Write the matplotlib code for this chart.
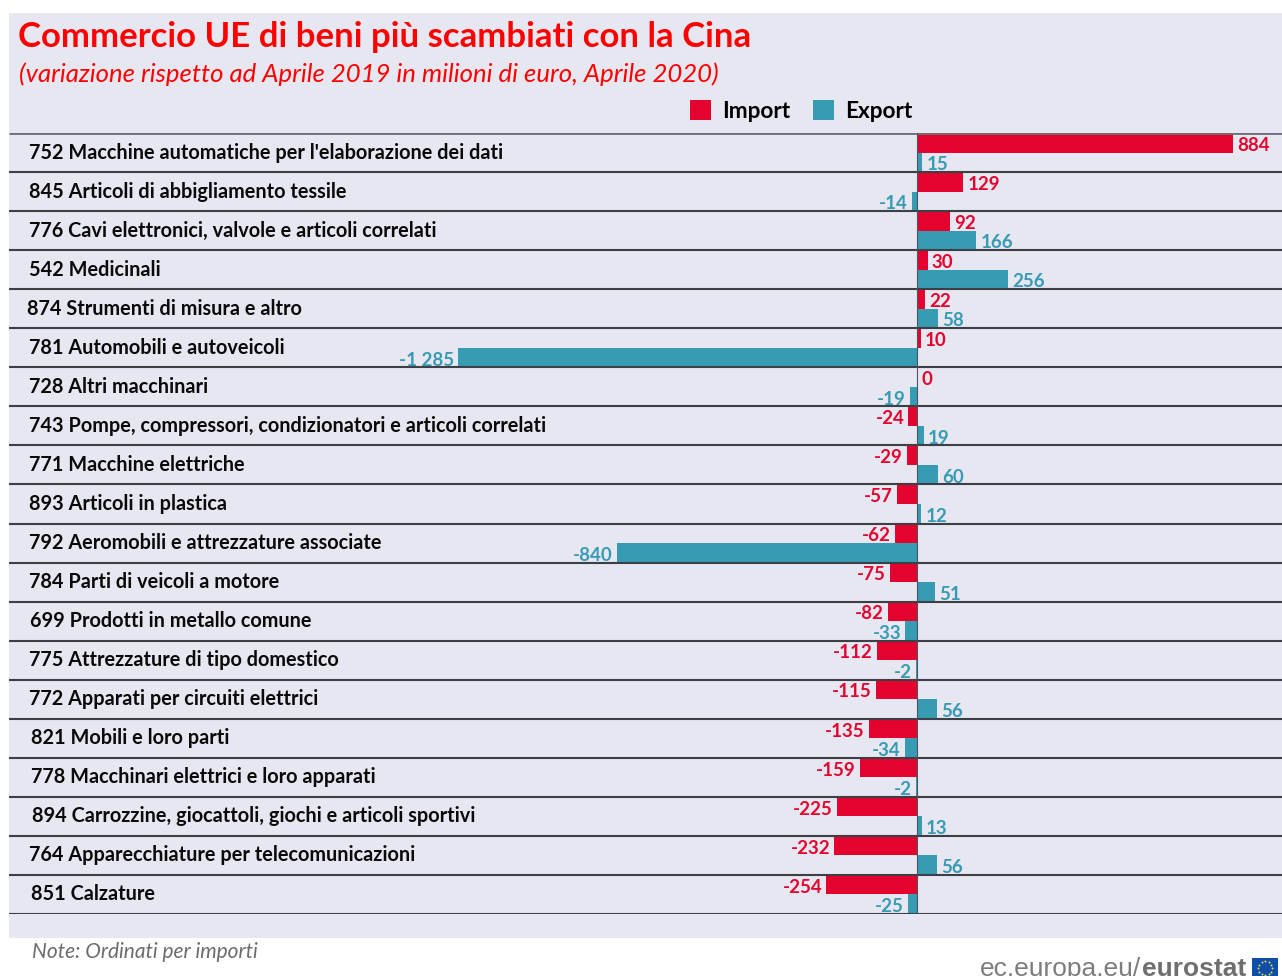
import numpy as np
import matplotlib
matplotlib.use("Agg")
import matplotlib.pyplot as plt
from matplotlib.patches import Rectangle

categories = [
    "752 Macchine automatiche per l'elaborazione dei dati",
    "845 Articoli di abbigliamento tessile",
    "776 Cavi elettronici, valvole e articoli correlati",
    "542 Medicinali",
    "874 Strumenti di misura e altro",
    "781 Automobili e autoveicoli",
    "728 Altri macchinari",
    "743 Pompe, compressori, condizionatori e articoli correlati",
    "771 Macchine elettriche",
    "893 Articoli in plastica",
    "792 Aeromobili e attrezzature associate",
    "784 Parti di veicoli a motore",
    "699 Prodotti in metallo comune",
    "775 Attrezzature di tipo domestico",
    "772 Apparati per circuiti elettrici",
    "821 Mobili e loro parti",
    "778 Macchinari elettrici e loro apparati",
    "894 Carrozzine, giocattoli, giochi e articoli sportivi",
    "764 Apparecchiature per telecomunicazioni",
    "851 Calzature",
]
imports = [884, 129, 92, 30, 22, 10, 0, -24, -29, -57, -62, -75, -82, -112, -115, -135, -159, -225, -232, -254]
exports = [15, -14, 166, 256, 58, -1285, -19, 19, 60, 12, -840, 51, -33, -2, 56, -34, -2, 13, 56, -25]

# the source labels are not quite left aligned
label_px = [29, 29, 29, 29, 27, 29, 29, 29, 29, 29, 29, 29, 30, 29, 29, 31, 31, 32, 29, 31]

W, H = 1282, 976
RED = "#e4032e"
TEAL = "#369bb3"
PANEL = "#e7e7f1"
ZERO_PX = 917
PX_PER_UNIT = 0.357


def fx(px):
    return px / W


def fy(px):
    return 1 - px / H


def fmt(v):
    # space as thousands separator
    return f"{v:,}".replace(",", " ")


plt.rcParams["font.family"] = ["Lato", "DejaVu Sans"]

fig = plt.figure(figsize=(W / 100, H / 100), dpi=100, facecolor="white")
fig.add_artist(Rectangle((fx(9), fy(938)), (W - 9) / W, 925 / H, zorder=-1,
                         transform=fig.transFigure, facecolor=PANEL, edgecolor="none"))

ax = fig.add_axes([fx(9), fy(914), (W - 9) / W, 781 / H])
ax.patch.set_alpha(0)
ax.set_xlim((9 - ZERO_PX) / PX_PER_UNIT, (W - ZERO_PX) / PX_PER_UNIT)
ax.set_ylim(20, 0)
ax.axis("off")

y = np.arange(len(categories))
bars_imp = ax.barh(y + 0.25, imports, height=0.5, color=RED, label="Import", zorder=2)
bars_exp = ax.barh(y + 0.75, exports, height=0.5, color=TEAL, label="Export", zorder=2)

lab_imp = ax.bar_label(bars_imp, labels=[fmt(v) for v in imports], padding=3, color=RED,
                       fontsize=13.5, fontweight="bold", clip_on=False)
lab_exp = ax.bar_label(bars_exp, labels=[fmt(v) for v in exports], padding=3, color=TEAL,
                       fontsize=13.5, fontweight="bold", clip_on=False)
# numbers sit a bit lower in the source
for a in list(lab_imp) + list(lab_exp):
    a.xyann = (a.xyann[0], a.xyann[1] - 1.8)

ax.hlines(np.arange(1, 21), *ax.get_xlim(), color="#3c3f45", lw=1.5, zorder=3)
ax.hlines(0, *ax.get_xlim(), color="#6d6f78", lw=2, zorder=3)
ax.axvline(0, color="#4a5560", lw=0.8, zorder=3)

for i, (name, px) in enumerate(zip(categories, label_px)):
    ax.text((px - 9) / (W - 9), i + 0.5, name, transform=ax.get_yaxis_transform(),
            ha="left", va="center", fontsize=14.35, fontweight="bold", color="#0a0a0a")

fig.text(fx(18), fy(37), "Commercio UE di beni più scambiati con la Cina", color="#fe0000",
         fontsize=25, fontweight="bold", ha="left", va="center")
fig.text(fx(19), fy(74), "(variazione rispetto ad Aprile 2019 in milioni di euro, Aprile 2020)",
         color="#fe0000", fontsize=18.5, fontstyle="italic", ha="left", va="center")

fig.legend(handles=[bars_imp, bars_exp], labels=["Import", "Export"], loc="center",
           bbox_to_anchor=(fx(801), fy(111)), ncols=2, frameon=False,
           prop={"size": 16.3, "weight": "bold"}, handlelength=0.92, handleheight=0.95,
           handletextpad=0.5, columnspacing=1.0)

fig.text(fx(32), fy(952), "Note: Ordinati per importi", color="#6b6b6b",
         fontsize=15, fontstyle="italic", ha="left", va="center")

# eurostat logo, cut by the bottom edge like in the source
logo_y = fy(976)
fig.text(fx(980), logo_y, "ec.europa.eu/", color="#7d7d7d", fontsize=19,
         family="Liberation Sans", ha="left", va="baseline")
fig.text(fx(1142), logo_y, "eurostat", color="#6f6f6f", fontsize=19, fontweight="bold",
         family="Liberation Sans", ha="left", va="baseline")
fig.add_artist(Rectangle((fx(1252), fy(976)), 26 / W, 18 / H, transform=fig.transFigure,
                         facecolor="#0f4fa8", edgecolor="none"))
ang = np.linspace(0, 2 * np.pi, 12, endpoint=False)
fig.add_artist(plt.Line2D(fx(1265 + 7 * np.cos(ang)), fy(968 + 7 * np.sin(ang)),
                          transform=fig.transFigure, ls="none", marker="o", ms=1.4,
                          color="#e8d44d", mew=0))

fig.savefig("out.png", dpi=100, facecolor="white")
